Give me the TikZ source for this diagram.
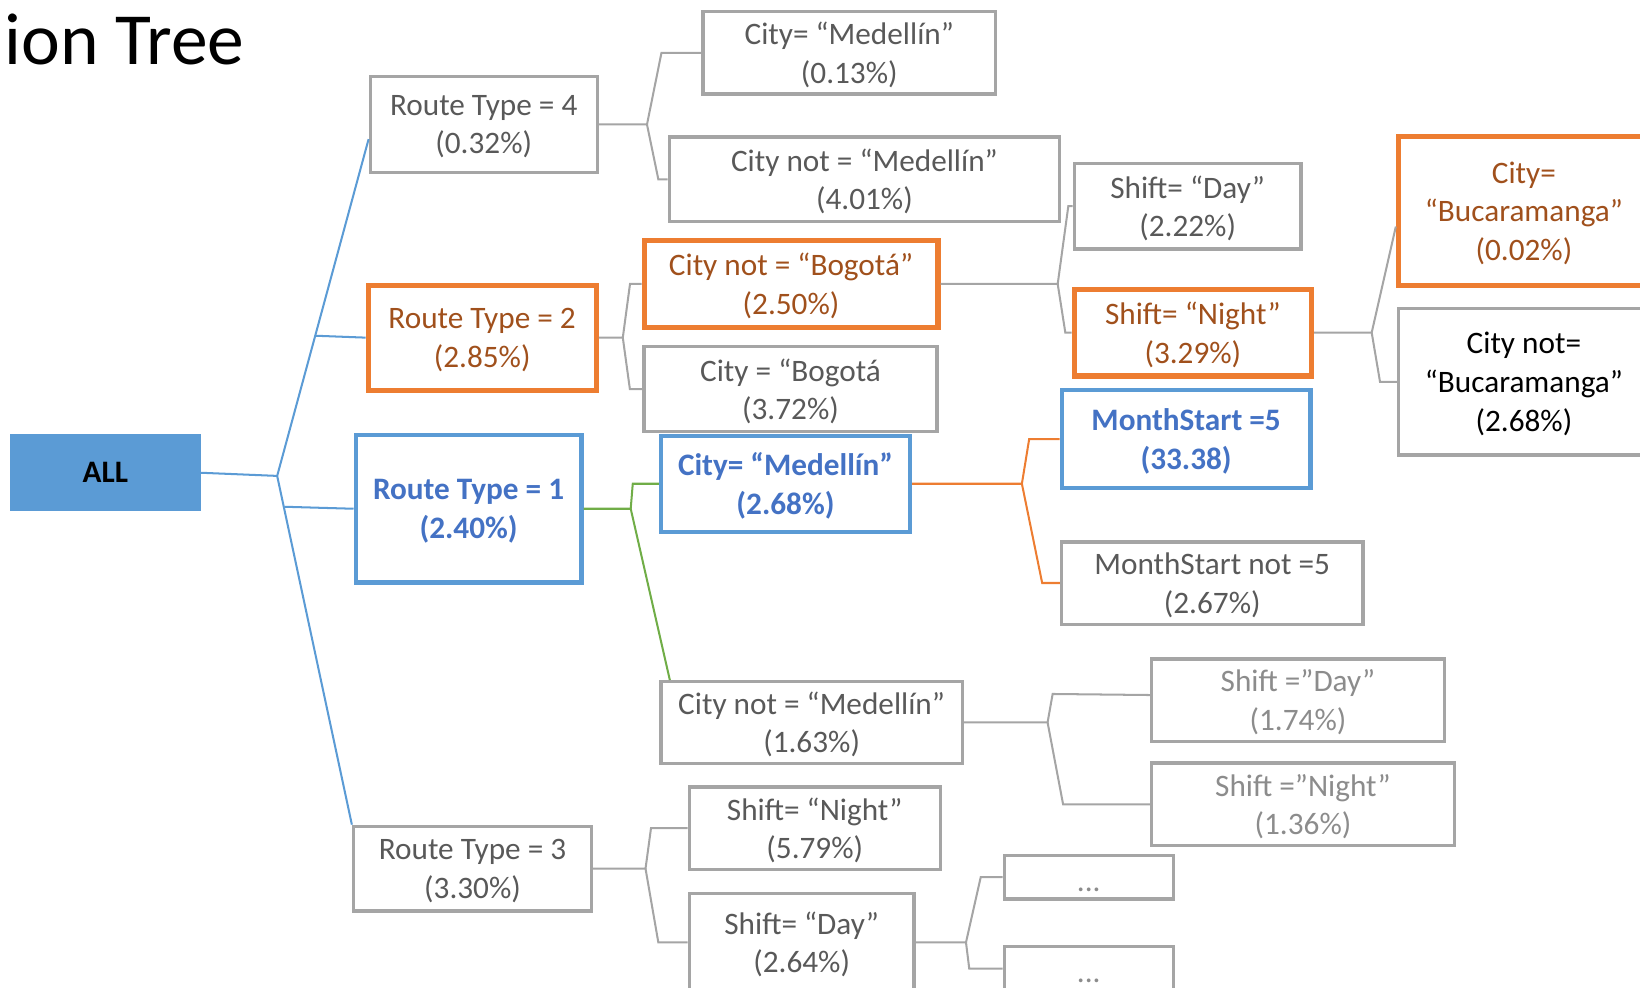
\documentclass[tikz,border=0pt]{standalone}
\usepackage{fontspec}
\setmainfont{Carlito}
\usetikzlibrary{calc}

\definecolor{accblue}{HTML}{5B9BD5}
\definecolor{darkblue}{HTML}{4472C4}
\definecolor{accorange}{HTML}{ED7D31}
\definecolor{rust}{HTML}{A0501C}
\definecolor{boxgray}{HTML}{A5A5A5}
\definecolor{textgray}{HTML}{595959}
\definecolor{palegray}{HTML}{8C8C8C}
\definecolor{leafgreen}{HTML}{70AD47}

\tikzset{
    sz/.style 2 args={minimum width=#1*0.02cm, minimum height=#2*0.02cm},
    leaf/.style={draw=boxgray, line width=1.8pt, inner sep=0pt, align=center,
        text=textgray, font=\fontsize{17pt}{21pt}\selectfont, text depth=0pt,
        execute at begin node={\rule{0pt}{15.5pt}}},
    faint/.style={leaf, text=palegray},
    hot/.style={leaf, draw=accorange, line width=2.8pt, text=rust},
    picked/.style={leaf, draw=accblue, line width=2.3pt, text=darkblue,
        font=\fontsize{17pt}{21pt}\selectfont\bfseries},
    twig/.style={boxgray, line width=1.1pt},
    bluetwig/.style={accblue, line width=1.1pt},
    greentwig/.style={leafgreen, line width=1.1pt},
    orangetwig/.style={accorange, line width=1.1pt}
}

\begin{document}
\begin{tikzpicture}[x=0.02cm,y=-0.02cm]
    \useasboundingbox (0,0) rectangle (1568,944);
    \clip (0,0) rectangle (1568,944);

    % title, cut at the left edge
    \node[anchor=base west, inner sep=0pt, font=\fontsize{40pt}{46pt}\selectfont] (title) at (4,61.5) {ion Tree};

    % root
    \node[sz={182.6}{74}, fill=accblue, inner sep=0pt,
        font=\fontsize{17pt}{21pt}\selectfont\bfseries] (all) at (100.7,452) {ALL};

    % first split: route type
    \node[leaf, sz={217}{92}] (rt4) at (462.5,119) {Route Type = 4\\(0.32\%)};
    \node[hot, sz={218}{100.5}] (rt2) at (461,322.8) {Route Type = 2\\(2.85\%)};
    \node[picked, sz={216}{141}] (rt1) at (448,486.4) {Route Type = 1\\(2.40\%)};
    \node[leaf, sz={227.6}{81}] (rt3) at (451.8,830.5) {Route Type = 3\\(3.30\%)};

    % second split
    \node[leaf, sz={280}{79}] (cm1) at (812,50.5) {City= “Medellín”\\(0.13\%)};
    \node[leaf, sz={373}{81}] (cnm1) at (826.5,171.4) {City not = “Medellín”\\(4.01\%)};
    \node[hot, sz={281}{83}] (cnb) at (756.3,271.5) {City not = “Bogotá”\\(2.50\%)};
    \node[leaf, sz={280}{81.7}] (cb) at (755.8,372) {City = “Bogotá\\(3.72\%)};
    \node[picked, sz={238}{92}] (cm2) at (751,462.5) {City= “Medellín”\\(2.68\%)};
    \node[leaf, sz={288}{78}] (cnm2) at (776,690.7) {City not = “Medellín”\\(1.63\%)};
    \node[leaf, sz={240}{78.5}] (sn3) at (779,791.8) {Shift= “Night”\\(5.79\%)};
    \node[leaf, sz={215}{93}] (sd3) at (766.5,901) {Shift= “Day”\\(2.64\%)};

    % third split
    \node[leaf, sz={217}{82}] (sd) at (1135.5,197) {Shift= “Day”\\(2.22\%)};
    \node[hot, sz={227}{83}] (snt) at (1140.5,318) {Shift= “Night”\\(3.29\%)};
    \node[picked, sz={238}{93.6}] (ms5) at (1134,419.8) {MonthStart =5\\(33.38)};
    \node[leaf, sz={288}{78.7}] (msn5) at (1159,557.4) {MonthStart not =5\\(2.67\%)};
    \node[faint, sz={280}{79}] (sd2) at (1241,669.5) {Shift =”Day”\\(1.74\%)};
    \node[faint, sz={289.6}{79}] (sn2) at (1245.8,769) {Shift =”Night”\\(1.36\%)};
    \node[faint, sz={161.5}{42}] (dt1) at (1041,838.6) {...};
    \node[faint, sz={161.5}{42}] (dt2) at (1041,926) {...};

    % fourth split, cut at the right edge
    \node[hot, sz={240}{142}] (cbuc) at (1457,201.6) {City=\\“Bucaramanga”\\(0.02\%)};
    \node[leaf, sz={240}{140}, text=black] (cnbuc) at (1457,365) {City not=\\“Bucaramanga”\\(2.68\%)};

    % connectors from the root
    \coordinate (j0) at (265,455);
    \coordinate (k2) at (302,321);
    \coordinate (k1) at (272,484.5);
    \draw[bluetwig] (all.east) -- (j0);
    \draw[bluetwig] (j0) -- ($(rt4.west)+(0,14)$);
    \draw[bluetwig] (k2) -- (rt2.west);
    \draw[bluetwig] (k1) -- (rt1.west);
    \draw[bluetwig] (j0) -- (rt3.north west);

    % route type 4
    \coordinate (j4) at ($(rt4.east)+(46,0)$);
    \draw[twig] (rt4.east) -- (j4) -- ($(cm1.west)+(-38,0)$) -- (cm1.west);
    \draw[twig] (j4) -- ($(cnm1.west)+(-9,0)$) -- (cnm1.west);

    % route type 2
    \coordinate (j2) at ($(rt2.east)+(23,0)$);
    \draw[twig] (rt2.east) -- (j2) -- ($(cnb.west)+(-11,0)$) -- (cnb.west);
    \draw[twig] (j2) -- ($(cb.west)+(-12,0)$) -- (cb.west);

    % route type 1
    \coordinate (j1) at ($(rt1.east)+(45,0)$);
    \draw[greentwig] (rt1.east) -- (j1) -- ($(cm2.west)+(-25,0)$) -- (cm2.west);
    \draw[greentwig] (j1) -- ($(cnm2.north west)+(10,0)$);

    % route type 3
    \coordinate (j3) at ($(rt3.east)+(50,0)$);
    \draw[twig] (rt3.east) -- (j3) -- ($(sn3.west)+(-35,0)$) -- (sn3.west);
    \draw[twig] (j3) -- ($(sd3.west)+(-28,0)$) -- (sd3.west);

    % city not bogota
    \coordinate (jb) at ($(cnb.east)+(112,0)$);
    \draw[twig] (cnb.east) -- (jb) -- ($(sd.west)+(-4,0)$) -- (sd.west);
    \draw[twig] (jb) -- ($(snt.west)+(-6,0)$) -- (snt.west);

    % shift night
    \coordinate (jn) at ($(snt.east)+(55,0)$);
    \draw[twig] (snt.east) -- (jn) -- ($(cbuc.west)+(0,15)$);
    \draw[twig] (jn) -- ($(cnbuc.west)+(-16,0)$) -- (cnbuc.west);

    % city medellin
    \coordinate (jm) at ($(cm2.east)+(105,0)$);
    \draw[orangetwig] (cm2.east) -- (jm) -- ($(ms5.west)+(-29,0)$) -- (ms5.west);
    \draw[orangetwig] (jm) -- ($(msn5.west)+(-17,0)$) -- (msn5.west);

    % city not medellin
    \coordinate (jc) at ($(cnm2.east)+(80,0)$);
    \draw[twig] (cnm2.east) -- (jc) -- ($(sd2.west)+(-93,-6)$) -- ($(sd2.west)+(0,-5)$);
    \draw[twig] (jc) -- ($(sn2.west)+(-83,0)$) -- (sn2.west);

    % shift day
    \coordinate (jd) at ($(sd3.east)+(48,0)$);
    \draw[twig] (sd3.east) -- (jd) -- ($(dt1.west)+(-21,0)$) -- (dt1.west);
    \draw[twig] (jd) -- ($(dt2.west)+(-32,0)$) -- (dt2.west);
\end{tikzpicture}
\end{document}
